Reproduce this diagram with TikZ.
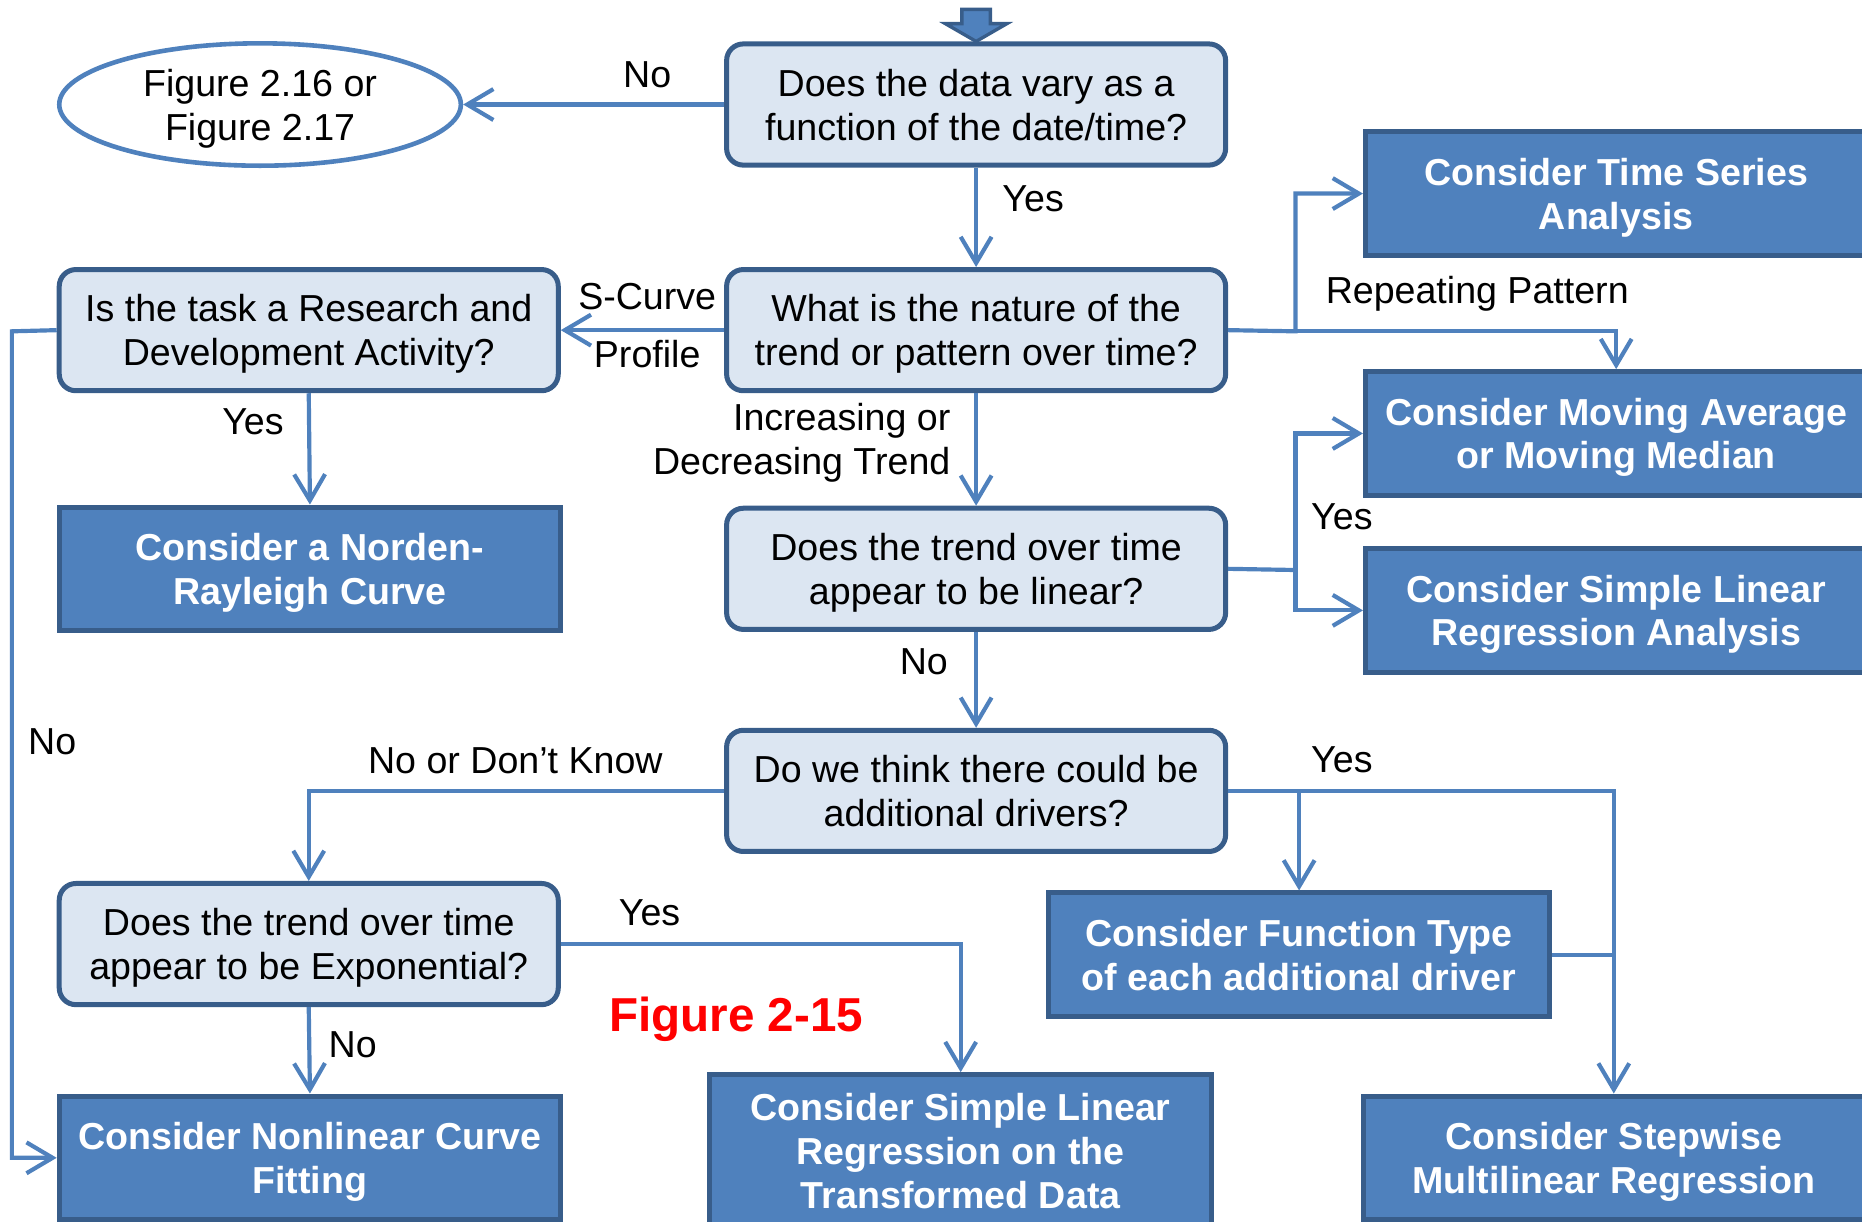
\documentclass[tikz,border=0pt]{standalone}
\usepackage{fontspec}
\setmainfont{Liberation Sans}
\usetikzlibrary{arrows.meta,shapes.geometric}
\definecolor{boxblue}{HTML}{4F81BD}
\definecolor{edgeblue}{HTML}{385D8A}
\definecolor{paleblue}{HTML}{DCE6F2}
\definecolor{figred}{HTML}{FF0000}

\begin{document}
\begin{tikzpicture}
  [x=0.01cm,y=-0.01cm,
   every node/.style={font=\fontsize{9}{10.5}\selectfont},
   ques/.style={rectangle,rounded corners=4pt,draw=edgeblue,line width=1.2pt,fill=paleblue,
                minimum width=4.2cm,minimum height=1.02cm,align=center,inner sep=1pt,text depth=0pt},
   act/.style={rectangle,draw=edgeblue,line width=1.2pt,fill=boxblue,text=white,
               font=\fontsize{9}{10.5}\selectfont\bfseries,text depth=0pt,
               minimum width=4.22cm,minimum height=1.04cm,align=center,inner sep=1pt},
   lbl/.style={inner sep=0pt},
   wire/.style={draw=boxblue,line width=1pt},
   link/.style={wire,-{Straight Barb[length=2.2mm,width=2.6mm]}}]

  \useasboundingbox (0,0) rectangle (1568,1029);

  %%%%%%%%%%%%%%%%%%%%%% QUESTIONS %%%%%%%%%%%%%%%%%%%%%%

   \node[ques] (q1) at (822,88)   {Does the data vary as a\\function of the date/time?};
   \node[ques] (q2) at (822,278)  {What is the nature of the\\trend or pattern over time?};
   \node[ques] (q3) at (822,479)  {Does the trend over time\\appear to be linear?};
   \node[ques] (q4) at (822,666)  {Do we think there could be\\additional drivers?};
   \node[ques] (rd) at (260,278)  {Is the task a Research and\\Development Activity?};
   \node[ques] (ex) at (260,795)  {Does the trend over time\\appear to be Exponential?};

   \node[ellipse,draw=boxblue,line width=1.1pt,fill=white,minimum width=3.38cm,text depth=0pt,
         minimum height=1.03cm,inner sep=0pt,align=center] (fig) at (219,88) {Figure 2.16 or\\Figure 2.17};

  %%%%%%%%%%%%%%%%%%%%%% ACTIONS %%%%%%%%%%%%%%%%%%%%%%

   \node[act] (ts)   at (1361,163) {Consider Time Series\\Analysis};
   \node[act] (ma)   at (1361,365) {Consider Moving Average\\or Moving Median};
   \node[act] (slr)  at (1361,514) {Consider Simple Linear\\Regression Analysis};
   \node[act] (nd)   at (261,479)  {Consider a Norden-\\Rayleigh Curve};
   \node[act] (ft)   at (1094,804) {Consider Function Type\\of each additional driver};
   \node[act] (smr)  at (1359,975) {Consider Stepwise\\Multilinear Regression};
   \node[act] (nl)   at (261,975)  {Consider Nonlinear Curve\\Fitting};
   \node[act,minimum height=1.28cm] (slrt) at (809,969) {Consider Simple Linear\\Regression on the\\Transformed Data};

  % entry arrow
   \draw[draw=edgeblue,fill=boxblue,line width=0.8pt]
     (q1.north) -- ++(-26,-15) -- ++(14,0) -- ++(0,-12) -- ++(24,0) -- ++(0,12) -- ++(14,0) -- cycle;

  %%%%%%%%%%%%%%%%%%%%%% CONNECTORS %%%%%%%%%%%%%%%%%%%%%%

   \foreach \fromq/\toq in {q1/q2,q2/q3,q3/q4,rd/nd,ex/nl}
    \draw[link] (\fromq.south) -- (\toq.north);

   \coordinate (j1) at (1091,279);
   \coordinate (j2) at (1091,480);
   \coordinate (lft) at (10,279);

   \draw[link] (q1.west) -- (fig.east);
   \draw[link] (q2.west) -- (rd.east);
   \draw[link] (q2.east) -- (j1) |- (ts.west);
   \draw[link] (j1) -| (ma.north);
   \draw[wire] (q3.east) -- (j2);
   \draw[link] (j2) |- (ma.west);
   \draw[link] (j2) |- (slr.west);
   \draw[link] (rd.west) -- (lft) |- (nl.west);
   \draw[link] (q4.west) -| (ex.north);
   \draw[link] (q4.east) -| (smr.north);
   \draw[link] (ft.north |- q4.east) -- (ft.north);
   \draw[wire] (ft.east) -- (ft.east -| smr.north);
   \draw[link] (ex.east) -| (slrt.north);

  %%%%%%%%%%%%%%%%%%%%%% LABELS %%%%%%%%%%%%%%%%%%%%%%

   \node[lbl] (l_no1)  at (545,63)  {No};
   \node[lbl] (l_yes1) at (870,167) {Yes};
   \node[lbl] (l_sc)   at (545,250) {S-Curve};
   \node[lbl] (l_pr)   at (545,298) {Profile};
   \node[lbl] (l_rp)   at (1244,247) {Repeating Pattern};
   \node[lbl,align=right,anchor=east] (l_inc) at (801,373) {Increasing or\\Decreasing Trend};
   \node[lbl] (l_yes2) at (213,355) {Yes};
   \node[lbl] (l_yes3) at (1130,435) {Yes};
   \node[lbl] (l_no2)  at (778,557) {No};
   \node[lbl] (l_no3)  at (44,625)  {No};
   \node[lbl] (l_dk)   at (434,641) {No or Don’t Know};
   \node[lbl] (l_yes4) at (1130,640) {Yes};
   \node[lbl] (l_yes5) at (547,769) {Yes};
   \node[lbl] (l_no4)  at (297,880) {No};
   \node[lbl,text=figred,font=\fontsize{11.4}{13}\selectfont\bfseries] (figno) at (620,858) {Figure 2-15};

\end{tikzpicture}
\end{document}
